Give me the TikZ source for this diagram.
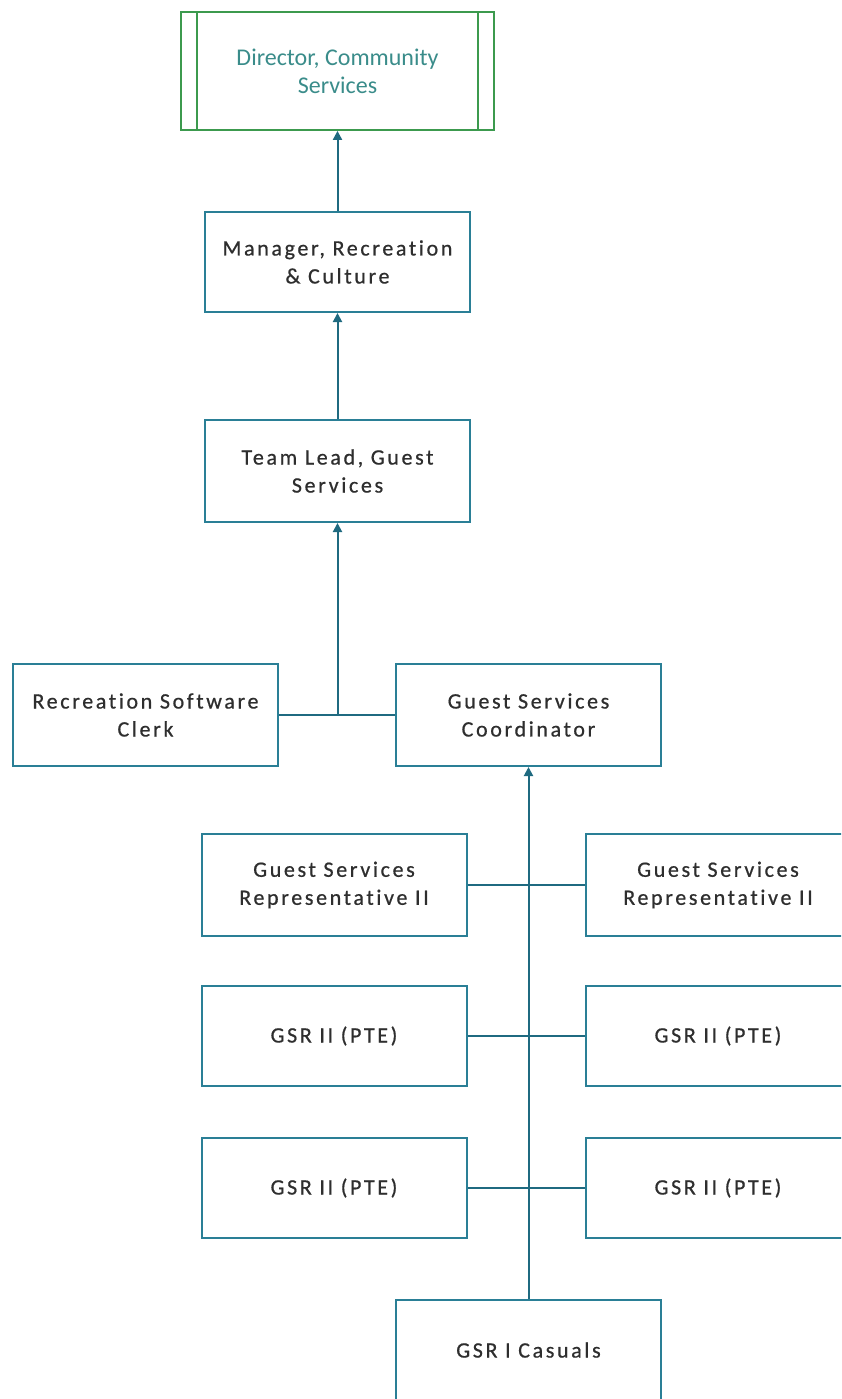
\documentclass[tikz,border=0pt]{standalone}
\usepackage{fontspec}
\setmainfont{Carlito}[Ligatures=NoCommon]
\newfontfamily\trackfont{Carlito}[LetterSpace=12, FakeBold=0.7, Ligatures=NoCommon]
\usetikzlibrary{arrows.meta}
\definecolor{boxline}{HTML}{2A7F96}
\definecolor{conline}{HTML}{1F6A80}
\definecolor{dirgreen}{HTML}{3C9A4E}
\definecolor{dirtext}{HTML}{3A8C8A}
\definecolor{txt}{HTML}{2E2E2E}
\tikzset{
  orgbox/.style={draw=boxline, line width=2pt, minimum width=265pt, minimum height=102pt,
    align=center, inner sep=0pt, font=\trackfont\fontsize{22}{28}\selectfont, text=txt},
  link/.style={draw=conline, line width=2pt},
  uplink/.style={link, -{Triangle[width=9pt,length=9pt]}}
}
\begin{document}
\begin{tikzpicture}[x=1pt,y=-1pt]
\useasboundingbox (0,0) rectangle (841,1399);
\clip (0,0) rectangle (841,1399);
% Director
\node[draw=dirgreen, line width=1.8pt, minimum width=313pt, minimum height=118pt, inner sep=0pt,
  align=center, text=dirtext, font=\fontsize{24}{28}\selectfont] (dir) at (337.5,71) {Director, Community\\Services};
\draw[dirgreen, line width=1.6pt] ([xshift=17pt]dir.north west) -- ([xshift=17pt]dir.south west);
\draw[dirgreen, line width=1.6pt] ([xshift=-17pt]dir.north east) -- ([xshift=-17pt]dir.south east);
% boxes
\node[orgbox, minimum height=100pt] (mgr) at (337.5,262) {Manager, Recreation\\\& Culture};
\node[orgbox] (tl) at (337.5,471) {Team Lead, Guest\\Services};
\node[orgbox] (clerk) at (145.5,715) {Recreation Software\\Clerk};
\node[orgbox] (coord) at (528.5,715) {Guest Services\\Coordinator};
\node[orgbox] (gl1) at (334,885) {Guest Services\\Representative II};
\node[orgbox] (gr1) at (718,885) {Guest Services\\Representative II};
\node[orgbox, minimum height=100pt] (gl2) at (334,1036) {GSR II (PTE)};
\node[orgbox, minimum height=100pt] (gr2) at (718,1036) {GSR II (PTE)};
\node[orgbox, minimum height=100pt] (gl3) at (334,1188) {GSR II (PTE)};
\node[orgbox, minimum height=100pt] (gr3) at (718,1188) {GSR II (PTE)};
\node[orgbox, minimum height=100pt] (cas) at (528.5,1350) {GSR I Casuals};
% connectors
\draw[uplink] (mgr.north) -- (dir.south);
\draw[uplink] (tl.north) -- (mgr.south);
\draw[link] (clerk.east) -- (coord.west);
\coordinate (j1) at (tl.south |- clerk.east);
\draw[uplink] (j1) -- (tl.south);
\draw[link] (gl1.east) -- (gr1.west);
\draw[link] (gl2.east) -- (gr2.west);
\draw[link] (gl3.east) -- (gr3.west);
\draw[uplink] (cas.north) -- (coord.south);
\end{tikzpicture}
\end{document}
